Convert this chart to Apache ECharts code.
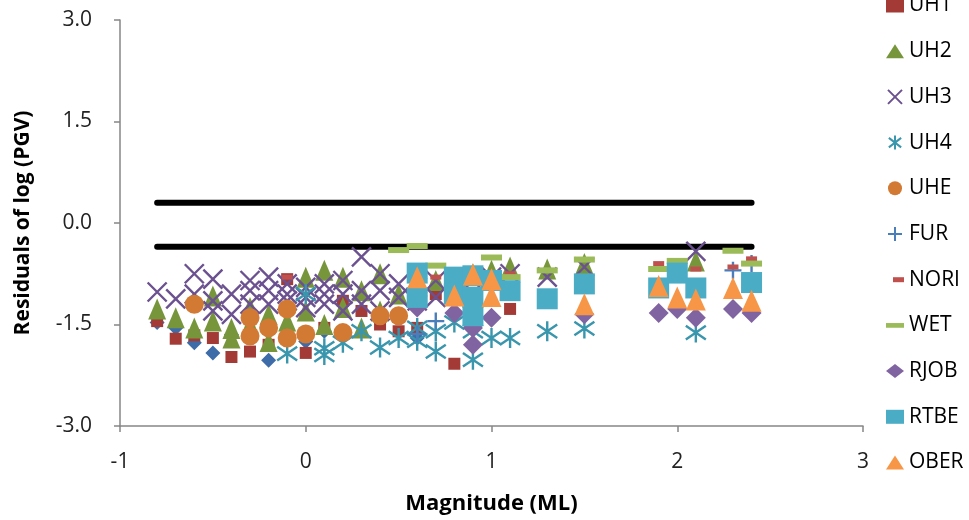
<!DOCTYPE html>
<html><head><meta charset="utf-8">
<script src="https://cdn.jsdelivr.net/npm/echarts@6/dist/echarts.min.js"></script>
<style>html,body{margin:0;padding:0;background:#fff}#c{width:969px;height:520px}</style>
</head><body><div id="c"></div>
<script>
// ---- data ----
const xTicks = [-1, 0, 1, 2, 3];
const yTicks = [-3.0, -1.5, 0.0, 1.5, 3.0];
const refUpper = [[-0.8, 0.3], [2.4, 0.3]];
const refLower = [[-0.8, -0.35], [2.4, -0.35]];
const blueD = [[-0.8,-1.47],[-0.7,-1.55],[-0.6,-1.77],[-0.5,-1.92],[-0.4,-1.65],[-0.2,-2.03],[0,-1.75],[0.1,-1.6],[0.6,-1.7]];
const UH1 = [[-0.8,-1.45],[-0.7,-1.71],[-0.6,-1.66],[-0.5,-1.7],[-0.4,-1.98],[-0.3,-1.9],[-0.2,-1.8],[-0.1,-0.83],[0,-1.92],[0.1,-1.55],[0.2,-1.15],[0.3,-1.3],[0.4,-1.5],[0.5,-1.6],[0.6,-1.55],[0.7,-1.05],[0.8,-2.08],[0.9,-1.25],[1.1,-1.27]];
const UH2 = [[-0.8,-1.27],[-0.7,-1.4],[-0.6,-1.55],[-0.5,-1.08],[-0.5,-1.45],[-0.4,-1.56],[-0.4,-1.7],[-0.3,-1.25],[-0.3,-1.5],[-0.2,-1.75],[-0.2,-1.35],[-0.1,-1.45],[0,-0.8],[0,-1.3],[0.1,-0.7],[0.1,-1.5],[0.2,-0.8],[0.2,-1.25],[0.3,-1.55],[0.3,-1.0],[0.4,-0.75],[0.4,-1.3],[0.5,-1.05],[0.6,-0.8],[0.7,-0.85],[0.8,-0.9],[0.9,-0.75],[1.0,-0.7],[1.1,-0.65],[1.3,-0.68],[1.5,-0.6],[2.1,-0.56]];
const UH3 = [[-0.8,-1.02],[-0.7,-1.12],[-0.6,-0.75],[-0.6,-1.05],[-0.5,-0.83],[-0.5,-1.3],[-0.5,-1.15],[-0.4,-1.05],[-0.4,-1.35],[-0.3,-0.85],[-0.3,-1.0],[-0.3,-1.2],[-0.2,-0.8],[-0.2,-1.0],[-0.2,-1.2],[-0.1,-0.9],[-0.1,-1.05],[-0.1,-1.15],[0,-0.95],[0,-1.1],[0,-1.25],[0.1,-0.9],[0.1,-1.05],[0.1,-1.2],[0.2,-0.85],[0.2,-1.05],[0.2,-1.3],[0.3,-0.5],[0.3,-1.0],[0.3,-1.2],[0.4,-0.75],[0.4,-1.0],[0.4,-1.3],[0.5,-0.9],[0.5,-1.1],[0.6,-0.95],[0.6,-1.15],[0.7,-0.85],[0.7,-1.1],[0.8,-1.0],[0.9,-0.85],[0.9,-1.1],[1.0,-0.8],[1.1,-0.75],[1.3,-0.8],[1.5,-0.65],[2.1,-0.42]];
const UH4 = [[-0.1,-1.93],[0,-1.05],[0.1,-1.85],[0.1,-1.95],[0.2,-1.77],[0.3,-1.6],[0.4,-1.84],[0.5,-1.7],[0.6,-1.55],[0.6,-1.74],[0.7,-1.6],[0.7,-1.9],[0.8,-1.47],[0.9,-2.02],[0.9,-1.6],[1.0,-1.7],[1.1,-1.7],[1.3,-1.6],[1.5,-1.56],[2.1,-1.62]];
const UHE = [[-0.6,-1.2],[-0.3,-1.4],[-0.3,-1.67],[-0.2,-1.55],[-0.1,-1.27],[-0.1,-1.7],[0,-1.64],[0.2,-1.62],[0.4,-1.37],[0.5,-1.37]];
const FUR = [[0.6,-1.64],[0.7,-1.45],[2.3,-0.7],[2.4,-0.6]];
const NORI = [[-0.1,-0.8],[0.7,-0.8],[0.8,-0.7],[1.1,-0.75],[1.9,-0.6],[2.1,-0.68],[2.3,-0.65],[2.4,-0.53]];
const WET = [[0.5,-0.4],[0.6,-0.34],[0.7,-0.63],[1.0,-0.51],[1.1,-0.8],[1.3,-0.7],[1.5,-0.54],[1.9,-0.68],[2.0,-0.56],[2.3,-0.41],[2.4,-0.6]];
const RJOB = [[0.6,-1.25],[0.8,-1.33],[0.9,-1.8],[0.9,-1.55],[1.0,-1.4],[1.5,-1.35],[1.9,-1.33],[2.0,-1.27],[2.1,-1.4],[2.3,-1.27],[2.4,-1.33]];
const RTBE = [[0.6,-0.74],[0.6,-1.1],[0.8,-0.8],[0.8,-1.05],[0.9,-0.78],[0.9,-1.1],[0.9,-1.37],[1.0,-0.85],[1.1,-1.0],[1.3,-1.12],[1.5,-0.9],[1.9,-0.96],[2.0,-0.74],[2.1,-0.96],[2.4,-0.88]];
const OBER = [[0.6,-0.8],[0.8,-1.07],[0.9,-0.76],[1.0,-0.83],[1.0,-1.08],[1.5,-1.2],[1.9,-0.93],[2.0,-1.1],[2.1,-1.13],[2.3,-0.96],[2.4,-1.15]];

const FONT = 'Open Sans';
const X_PATH = 'path://M0 0L10 10M10 0L0 10';
const AST_PATH = 'path://M5 0L5 10M0.6 1.6L9.4 8.4M0.6 8.4L9.4 1.6';
const PLUS_PATH = 'path://M5 0L5 10M0 5L10 5';

function sc(name, data, symbol, size, color, stroke) {
  return {name, type:'scatter', data, symbol, symbolSize:size, silent:true,
    itemStyle: stroke ? {color: color, borderColor: color, borderWidth: 2.4, opacity:1}
                      : {color: color, opacity:1}};
}
function refLine(data){
  return {type:'line', data, symbol:'none', silent:true, z:1,
    lineStyle:{color:'#000', width:6, cap:'round'}};
}
const chart = echarts.init(document.getElementById('c'), null, {renderer:'canvas'});
chart.setOption({
  animation:false,
  backgroundColor:'#fff',
  grid:{left:120, right:106, top:20, bottom:93, containLabel:false},
  xAxis:{type:'value', min:xTicks[0], max:xTicks[xTicks.length-1], interval:1,
    name:'Magnitude (ML)', nameLocation:'middle', nameGap:67,
    nameTextStyle:{fontFamily:FONT, fontSize:22, fontWeight:'bold', color:'#000'},
    axisLine:{onZero:false, lineStyle:{color:'#868686', width:1.5}},
    axisTick:{show:true, length:6, lineStyle:{color:'#868686', width:1.5}},
    axisLabel:{fontFamily:FONT, fontSize:21, color:'#222', margin:26},
    splitLine:{show:false}},
  yAxis:{type:'value', min:yTicks[0], max:yTicks[yTicks.length-1], interval:1.5,
    name:'Residuals of log (PGV)', nameLocation:'middle', nameGap:86, nameRotate:90,
    nameTextStyle:{fontFamily:FONT, fontSize:21, fontWeight:'bold', color:'#000'},
    axisLine:{onZero:false, lineStyle:{color:'#868686', width:1.5}},
    axisTick:{show:true, length:6, lineStyle:{color:'#868686', width:1.5}},
    axisLabel:{fontFamily:FONT, fontSize:21, color:'#222', margin:28, formatter:v=>v.toFixed(1)},
    splitLine:{show:false}},
  legend:{orient:'vertical', left:881, top:-10, itemWidth:18, itemHeight:14, itemGap:24.7,
    textStyle:{fontFamily:FONT, fontSize:21, color:'#000', lineHeight:20},
    data:['UH1','UH2','UH3','UH4','UHE','FUR',
      {name:'NORI', icon:'path://M0 0L11 0L11 5L0 5Z M-7 2.5L-7 2.5'},
      {name:'WET', icon:'path://M0 0L19 0L19 5L0 5Z'},
      'RJOB','RTBE','OBER']},
  series:[
    refLine(refUpper), refLine(refLower),
    sc('S0', blueD, 'diamond', 15, '#3D6CA8'),
    sc('UH1', UH1, 'rect', 12, '#A33A36'),
    sc('UH2', UH2, 'triangle', [18,21], '#77963C'),
    sc('UH3', UH3, X_PATH, 19, '#6B5190', true),
    sc('UH4', UH4, AST_PATH, 20, '#3A96AD', true),
    sc('UHE', UHE, 'circle', 19, '#D27A33'),
    sc('FUR', FUR, PLUS_PATH, 17, '#4A7EBB', true),
    sc('NORI', NORI, 'rect', [11,5], '#C0504D'),
    sc('WET', WET, 'rect', [21,6], '#9BBB59'),
    sc('RJOB', RJOB, 'diamond', 20, '#8064A2'),
    sc('RTBE', RTBE, 'rect', 21, '#4BACC6'),
    sc('OBER', OBER, 'triangle', [20,22], '#F79646')
  ]
});
</script></body></html>
